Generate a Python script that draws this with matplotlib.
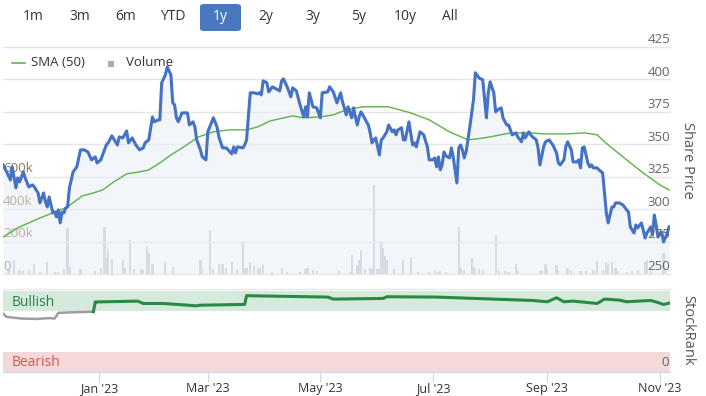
import matplotlib
matplotlib.use("Agg")
import matplotlib.pyplot as plt
import matplotlib.dates as mdates
import matplotlib.transforms as mtransforms
from matplotlib.patches import FancyBboxPatch, Rectangle
from matplotlib.lines import Line2D
import numpy as np
import pandas as pd

plt.rcParams["font.family"] = ["Open Sans", "DejaVu Sans"]

# days counted from START
START = pd.Timestamp("2022-11-10")

price_day = [
    0, 2, 4, 5, 7, 8, 9, 11, 12, 14,
    16, 17, 19, 20, 22, 23, 24, 25, 27, 28,
    29, 30, 31, 32, 33, 34, 35, 36, 37, 38,
    40, 42, 44, 46, 48, 50, 51, 53, 56, 57,
    59, 61, 62, 63, 65, 67, 68, 70, 72, 74,
    76, 77, 79, 81, 82, 84, 85, 86, 88, 89,
    91, 92, 93, 94, 95, 97, 100, 101, 103, 104,
    105, 107, 108, 110, 111, 114, 116, 117, 119, 121,
    123, 124, 125, 126, 127, 130, 131, 132, 134, 136,
    138, 139, 140, 141, 143, 144, 146, 147, 150, 151,
    152, 154, 156, 157, 159, 161, 163, 164, 165, 166,
    168, 170, 172, 173, 176, 177, 179, 181, 182, 183,
    184, 185, 186, 187, 189, 190, 191, 192, 193, 194,
    195, 197, 198, 199, 200, 201, 202, 204, 205, 206,
    208, 209, 211, 212, 213, 214, 216, 217, 218, 220,
    222, 223, 224, 226, 228, 230, 231, 233, 234, 235,
    236, 237, 238, 239, 240, 242, 243, 244, 246, 247,
    248, 249, 250, 251, 253, 255, 256, 258, 260, 262,
    263, 264, 266, 267, 268, 270, 271, 273, 274, 275,
    276, 278, 279, 281, 282, 283, 285, 286, 287, 289,
    290, 291, 293, 294, 296, 298, 300, 301, 302, 304,
    305, 306, 308, 309, 311, 312, 313, 314, 315, 317,
    318, 319, 320, 322, 323, 325, 326, 327, 328, 330,
    331, 332, 334, 336, 338, 339, 340, 342, 343, 344,
    346, 347, 348, 349, 351, 352, 353, 354, 355, 357,
    358, 360, 361,
]
price = [
    334.1, 328.7, 322.5, 332.6, 316.4, 324.1, 321.0, 328.7, 324.1, 317.1,
    318.7, 317.1, 312.5, 304.8, 312.5, 305.6, 301.7, 309.4, 297.1, 297.8,
    294.0, 299.4, 289.4, 297.8, 297.1, 300.9, 301.7, 316.4, 322.5, 328.7,
    332.6, 345.7, 345.7, 344.1, 338.0, 340.3, 335.6, 338.0, 349.5, 351.1,
    356.5, 351.9, 349.5, 355.7, 354.9, 360.3, 351.1, 354.9, 349.5, 345.7,
    347.2, 351.1, 353.4, 371.1, 367.3, 368.8, 368.8, 397.4, 403.5, 409.7,
    403.5, 381.9, 380.4, 370.4, 367.3, 374.2, 374.2, 364.9, 367.3, 363.4,
    353.4, 345.7, 340.3, 338.0, 359.6, 370.4, 363.4, 355.7, 347.2, 347.2,
    344.1, 342.6, 348.0, 343.4, 348.0, 347.2, 349.5, 353.4, 389.7, 389.7,
    388.9, 389.7, 388.1, 398.9, 397.4, 390.4, 394.3, 393.5, 391.2, 398.9,
    400.4, 394.3, 386.6, 393.5, 391.2, 380.4, 371.1, 378.9, 371.1, 389.7,
    378.9, 378.1, 370.4, 389.7, 390.4, 394.3, 390.4, 381.9, 385.8, 389.7,
    382.7, 378.1, 372.7, 378.9, 370.4, 378.1, 371.1, 364.9, 371.1, 375.0,
    372.7, 367.3, 364.9, 358.8, 351.1, 353.4, 354.9, 341.8, 353.4, 354.9,
    359.6, 364.9, 359.6, 361.1, 357.3, 361.1, 362.7, 353.4, 353.4, 367.3,
    349.5, 351.1, 348.0, 359.6, 357.3, 348.0, 338.0, 338.0, 339.5, 332.6,
    340.3, 330.3, 334.1, 344.1, 341.1, 339.5, 347.2, 340.3, 320.2, 347.2,
    349.5, 345.7, 339.5, 344.1, 363.4, 384.3, 405.1, 401.2, 399.7, 370.4,
    389.7, 398.2, 389.7, 375.0, 376.5, 378.1, 370.4, 364.9, 364.9, 361.1,
    357.3, 358.8, 355.7, 351.9, 358.8, 354.9, 359.6, 357.3, 355.7, 353.4,
    347.2, 334.1, 348.0, 351.9, 353.4, 349.5, 343.4, 335.6, 334.1, 338.0,
    348.0, 351.9, 345.7, 336.4, 336.4, 338.0, 331.8, 347.2, 348.0, 335.6,
    332.6, 334.1, 331.8, 331.8, 330.3, 327.9, 312.5, 297.1, 289.4, 301.7,
    301.7, 304.8, 304.8, 303.2, 299.4, 297.8, 286.3, 281.6, 287.8, 285.5,
    289.4, 283.9, 277.8, 281.6, 286.3, 280.1, 295.5, 287.8, 278.5, 282.4,
    274.7, 281.6, 286.3,
]

sma_day = [0, 9, 20, 27, 35, 40, 43, 49, 54, 60, 67, 74, 79, 85, 91, 98, 106, 114,
           123, 132, 138, 145, 157, 163, 172, 179, 186, 195, 209, 221, 231, 242,
           252, 257, 264, 275, 286, 293, 306, 315, 322, 326, 330, 338, 347, 356, 361]
sma = [278.5, 286.3, 293.2, 297.1, 301.7, 307.1, 310.2, 312.5, 314.8, 321.0,
       327.2, 328.7, 330.3, 335.6, 341.8, 348.0, 355.7, 359.6, 361.1, 361.1,
       363.4, 368.1, 371.9, 370.4, 371.1, 372.7, 376.5, 378.9, 378.9, 374.2,
       368.8, 359.6, 353.4, 354.2, 355.7, 358.8, 358.8, 358.0, 358.0, 358.8,
       357.3, 351.9, 347.2, 338.0, 327.9, 318.7, 314.8]

vol_day = [3, 6, 9, 11, 14, 17, 20, 24, 28, 30, 33, 35, 36, 42, 50, 53, 55, 56, 57, 59,
           65, 66, 69, 71, 75, 76, 78, 79, 81, 88, 92, 107, 108, 112, 114, 117, 119, 121,
           124, 127, 130, 131, 132, 134, 136, 138, 139, 141, 146, 151, 154, 161, 164,
           165, 168, 170, 182, 188, 189, 192, 193, 194, 196, 199, 200, 201, 203, 204,
           205, 206, 207, 208, 212, 217, 221, 225, 231, 234, 236, 237, 240, 247, 248,
           250, 254, 255, 256, 258, 260, 267, 269, 272, 274, 278, 279, 291, 292, 294,
           295, 300, 301, 306, 308, 313, 316, 320, 322, 325, 327, 328, 330, 332, 333,
           338, 341, 344, 348, 349, 351, 358, 359]
volume_k = [30, 86, 25, 20, 25, 62, 15, 74, 15, 15, 30, 284, 43, 30, 20, 35, 290, 99, 155, 95,
            86, 40, 210, 30, 30, 25, 167, 130, 62, 74, 43, 86, 30, 272, 30, 62, 62, 35,
            74, 30, 198, 30, 40, 74, 50, 35, 40, 56, 15, 40, 15, 15, 30,
            40, 25, 20, 20, 15, 117, 56, 86, 148, 30, 40, 30, 549, 30, 30,
            191, 160, 110, 86, 30, 86, 105, 15, 15, 25, 15, 20, 15, 290, 40,
            25, 99, 43, 35, 30, 25, 241, 20, 20, 15, 62, 20, 20, 25, 62,
            30, 56, 25, 35, 20, 20, 20, 25, 80, 25, 74, 62, 74, 40, 20,
            15, 20, 25, 74, 86, 20, 130, 30]

rank_day = [0, 2, 6, 10, 18, 25, 28, 30, 35, 49, 50, 51, 73, 76, 87, 105, 107, 129, 131,
            132, 176, 179, 206, 208, 235, 287, 295, 300, 304, 309, 322, 326, 334, 338,
            351, 355, 358, 361]
rank = [72, 68, 67, 66, 65.5, 66.5, 66, 73, 73.5, 74.5, 86.5, 86.5, 87.5, 84.6, 84.6,
        81.7, 82.5, 83.3, 83.5, 94.2, 92.5, 90, 90.8, 92.9, 92.5, 88.3, 86.7, 91.7,
        86.7, 87.5, 84.6, 90, 88.8, 86.7, 88.3, 85.8, 83.3, 85]

price_ticks = [250, 275, 300, 325, 350, 375, 400, 425]
volume_ticks = [0, 200000, 400000, 600000]
volume_labels = ["0", "200k", "400k", "600k"]
buttons = ["1m", "3m", "6m", "YTD", "1y", "2y", "3y", "5y", "10y", "All"]
button_x = [33, 80, 126, 173, 220, 266, 313, 359, 405, 450]


def to_dates(days):
    return START + pd.to_timedelta(days, unit="D")


W, H = 706, 396


def fx(x):
    return x / W


def fy(y):
    return 1 - y / H


fig = plt.figure(figsize=(W / 100, H / 100), dpi=100)
fig.patch.set_facecolor("white")

x0, x1 = START, START + pd.Timedelta(days=361.5)

# price + volume panel
ax = fig.add_axes([fx(3), fy(274), 667 / W, 227 / H])
axv = ax.twinx()
ax.set_zorder(2)
axv.set_zorder(1)
ax.patch.set_visible(False)

for a in (ax, axv):
    for s in a.spines.values():
        s.set_visible(False)
    a.tick_params(left=False, right=False, bottom=False,
                  labelleft=False, labelright=False, labelbottom=False)

ax.set_xlim(x0, x1)
ax.set_ylim(250, 425)
axv.set_ylim(0, 1.4e6)

for v in price_ticks:
    ax.axhline(v, color="#e6e6e6", lw=1, zorder=0, clip_on=False)

axv.bar(to_dates(vol_day), np.array(volume_k) * 1000, width=1.2, color="#c9cad2",
        linewidth=0, zorder=2)

pd_dates = to_dates(price_day)
ax.fill_between(pd_dates, price, 250, color="#e6ecf7", alpha=0.5, lw=0, zorder=1)
ax.plot(to_dates(sma_day), sma, color="#5cb346", lw=1.0, zorder=2)
ax.plot(pd_dates, price, color="#4472c4", lw=2.2, zorder=3, solid_joinstyle="round")

trans_p = mtransforms.offset_copy(
    mtransforms.blended_transform_factory(ax.transAxes, ax.transData), fig=fig, y=7, units="dots")
for v in price_ticks:
    ax.text(1.0, v, str(v), transform=trans_p, ha="right", va="center",
            fontsize=9.5, color="#666666", zorder=5)

trans_v = mtransforms.offset_copy(
    mtransforms.blended_transform_factory(axv.transAxes, axv.transData), fig=fig, y=8, units="dots")
for v, lab in zip(volume_ticks, volume_labels):
    axv.text(0.0, v, lab, transform=trans_v, ha="left", va="center",
             fontsize=9.5, color="#8c7651", zorder=5)

# legend
fig.add_artist(Line2D([fx(12), fx(25)], [fy(63), fy(63)], color="#5cb346", lw=1.2))
fig.text(fx(31), fy(63), "SMA (50)", va="center", fontsize=9.5, color="#333333")
fig.add_artist(Rectangle((fx(108), fy(67)), 6 / W, 6 / H, transform=fig.transFigure,
                         color="#aaaaaa", lw=0))
fig.text(fx(126), fy(63), "Volume", va="center", fontsize=9.5, color="#333333")

fig.text(fx(688), fy(160), "Share Price", rotation=270, ha="center", va="center",
         fontsize=10.5, color="#555555")

# StockRank panel
axr = fig.add_axes([fx(3), fy(372), 667 / W, 81 / H])
axr.set_xlim(x0, x1)
axr.set_ylim(0, 100)
axr.axhspan(75, 100, color="#d5eadc", lw=0, zorder=0)
axr.axhspan(0, 25, color="#f5d8da", lw=0, zorder=0)
axr.axhline(102.5, color="#e6e6e6", lw=1, clip_on=False)
for side in ("left", "right", "top"):
    axr.spines[side].set_visible(False)
axr.spines["bottom"].set_color("#ccd6eb")
axr.tick_params(axis="y", left=False, labelleft=False)
axr.xaxis.set_major_locator(mdates.MonthLocator(bymonth=[1, 3, 5, 7, 9, 11]))
axr.xaxis.set_major_formatter(mdates.DateFormatter("%b '%y"))
axr.tick_params(axis="x", length=7, color="#ccd6eb", labelsize=9,
                labelcolor="#333333", pad=0)

rd = to_dates(rank_day)
rv = np.array(rank)
split = int(np.argmax(rv >= 75))
axr.plot(rd[:split], rv[:split], color="#9e9e9e", lw=1.8, zorder=3)
axr.plot(rd[split - 1:], rv[split - 1:], color="#2a8a45", lw=2.2, zorder=3)

fig.text(fx(12), fy(303), "Bullish", va="center", fontsize=10, color="#2e7d4a")
fig.text(fx(12), fy(363), "Bearish", va="center", fontsize=10, color="#d9534f")
fig.text(fx(669), fy(363), "0", ha="right", va="center", fontsize=9.5, color="#666666")
fig.text(fx(688), fy(330), "StockRank", rotation=270, ha="center", va="center",
         fontsize=10.5, color="#555555")

# range buttons
fig.add_artist(FancyBboxPatch((fx(200), fy(31)), 41 / W, 27 / H,
                              boxstyle="round,pad=0,rounding_size=0.006",
                              transform=fig.transFigure, color="#4a78bf", lw=0))
for lab, bx in zip(buttons, button_x):
    fig.text(fx(bx), fy(17), lab, ha="center", va="center", fontsize=10,
             color="white" if lab == "1y" else "#333333")

fig.savefig("out.png", dpi=100, facecolor="white")
